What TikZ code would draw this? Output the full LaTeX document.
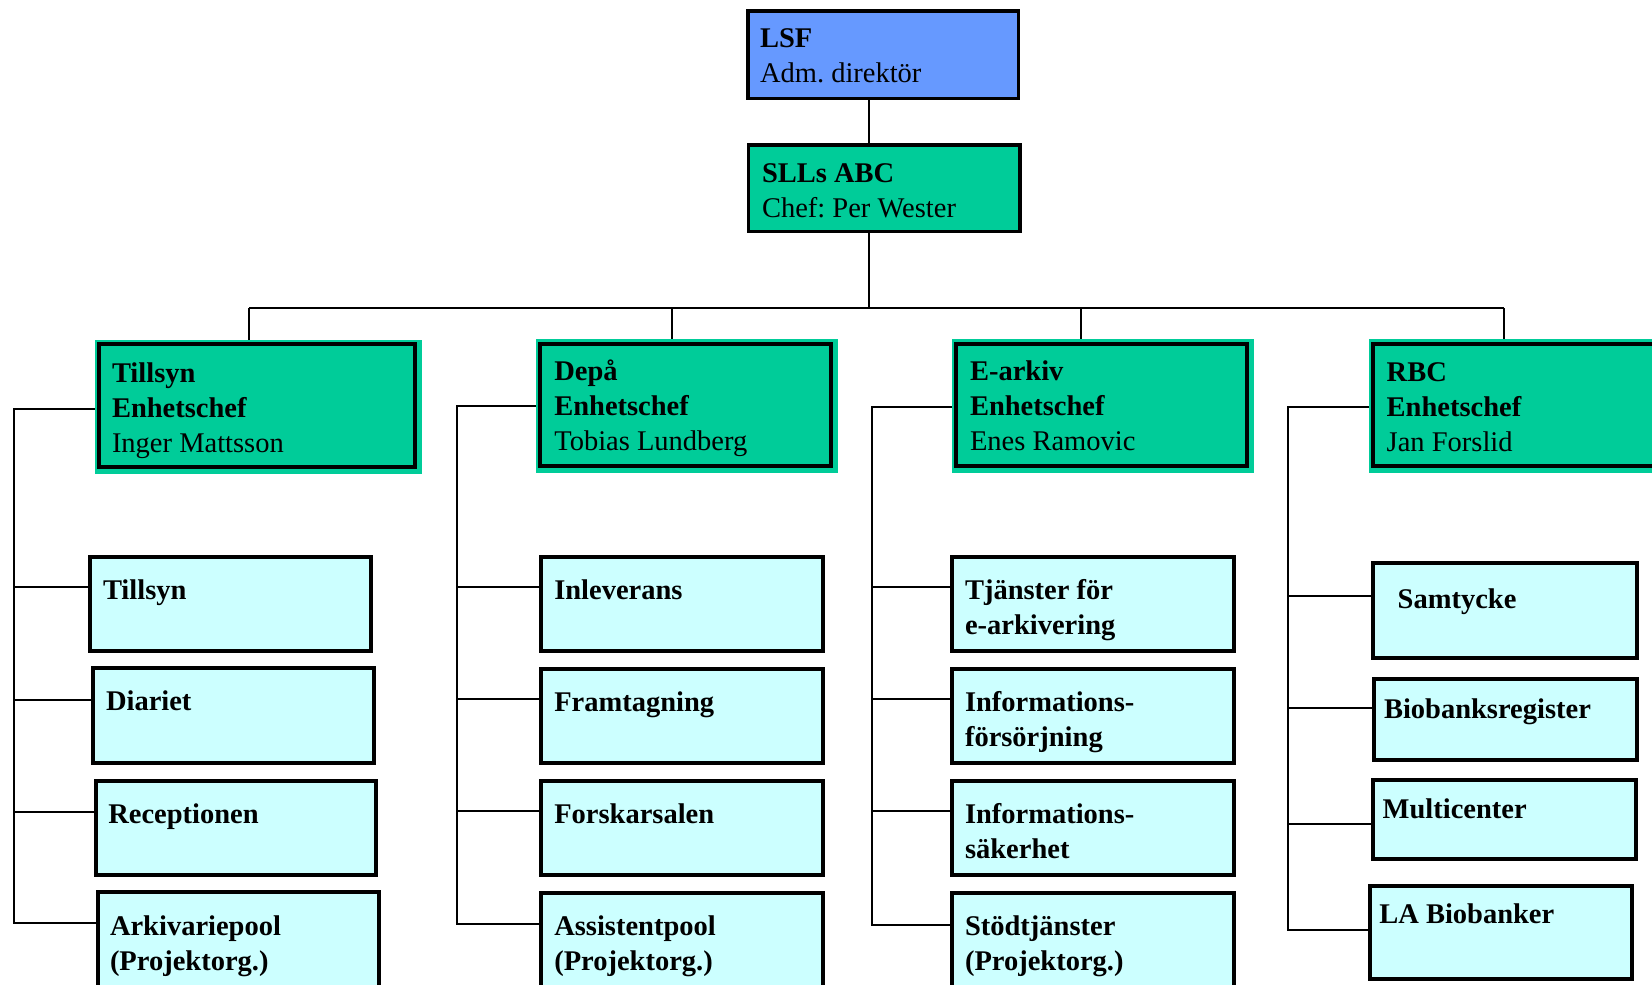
\documentclass[tikz,border=0pt]{standalone}
\usepackage{fontspec}
\setmainfont{Liberation Serif}
\frenchspacing
\definecolor{lsfblue}{HTML}{6699FF}
\definecolor{abcgreen}{HTML}{00CC99}
\definecolor{unitcyan}{HTML}{CCFFFF}
\pgfdeclarelayer{bg}
\pgfsetlayers{bg,main}
\newcommand{\rowstack}[1]{\begin{tabular}[t]{@{}l@{}}#1\end{tabular}}
\tikzset{
  boxbase/.style={rectangle, draw=black, inner sep=0pt, outer sep=0pt, anchor=north west},
  topbox/.style={boxbase, line width=3.5pt},
  unitbox/.style={boxbase, fill=abcgreen, line width=4pt, preaction={draw=abcgreen, fill=abcgreen, line width=11pt, transform canvas={shift={(1.5pt,-1pt)}}}},
  subbox/.style={boxbase, fill=unitcyan, line width=4pt},
  lbl/.style={anchor=base west, inner sep=0pt, outer sep=0pt, font=\fontsize{28.5}{35}\selectfont},
  conn/.style={line width=2pt, draw=black},
}
\begin{document}
\begin{tikzpicture}[x=1pt,y=-1pt]
\useasboundingbox (0,0) rectangle (1652,985);
% top boxes
\node[topbox, fill=lsfblue, minimum width=270.5pt, minimum height=87.5pt] (lsf) at (747.75,10.75) {};
\node[lbl] (lsft) at (760,47) {\rowstack{\textbf{LSF}\\Adm. direktör}};
\node[topbox, fill=abcgreen, minimum width=271.5pt, minimum height=86.5pt] (sll) at (748.5,144.75) {};
\node[lbl] (sllt) at (762,182) {\rowstack{\textbf{SLLs ABC}\\Chef: Per Wester}};
% units
\node[unitbox, minimum width=316pt, minimum height=123pt] (u1) at (99,344) {};
\node[lbl] (u1t) at (112,382) {\rowstack{\textbf{Tillsyn}\\\textbf{Enhetschef}\\Inger Mattsson}};
\node[unitbox, minimum width=291pt, minimum height=122.6pt] (u2) at (540.3,343.7) {};
\node[lbl] (u2t) at (554.3,380) {\rowstack{\textbf{Depå}\\\textbf{Enhetschef}\\Tobias Lundberg}};
\node[unitbox, minimum width=291pt, minimum height=122.6pt] (u3) at (956.3,343.7) {};
\node[lbl] (u3t) at (970,380) {\rowstack{\textbf{E-arkiv}\\\textbf{Enhetschef}\\Enes Ramovic}};
\node[unitbox, minimum width=320pt, minimum height=122.6pt] (u4) at (1372.7,343.7) {};
\node[lbl] (u4t) at (1386.7,381) {\rowstack{\textbf{RBC}\\\textbf{Enhetschef}\\Jan Forslid}};
% column 1
\node[subbox, minimum width=280.4pt, minimum height=94pt] (c1a) at (90.3,556.7) {};
\node[lbl] (c1at) at (103,599.3) {\textbf{Tillsyn}};
\node[subbox, minimum width=280.7pt, minimum height=94.7pt] (c1b) at (93.3,668.3) {};
\node[lbl] (c1bt) at (106,710.7) {\textbf{Diariet}};
\node[subbox, minimum width=280.6pt, minimum height=94pt] (c1c) at (95.7,780.7) {};
\node[lbl] (c1ct) at (108.3,823.3) {\textbf{Receptionen}};
\node[subbox, minimum width=280.7pt, minimum height=104pt] (c1d) at (98,892.3) {};
\node[lbl] (c1dt) at (110,935) {\rowstack{\textbf{Arkivariepool}\\\textbf{(Projektorg.)}}};
% column 2
\node[subbox, minimum width=281.4pt, minimum height=93.7pt] (c2a) at (541.3,557) {};
\node[lbl] (c2at) at (554.3,599.3) {\textbf{Inleverans}};
\node[subbox, minimum width=281.4pt, minimum height=94pt] (c2b) at (541.3,668.5) {};
\node[lbl] (c2bt) at (554.3,711) {\textbf{Framtagning}};
\node[subbox, minimum width=281.4pt, minimum height=94pt] (c2c) at (541.3,780.7) {};
\node[lbl] (c2ct) at (554.3,823) {\textbf{Forskarsalen}};
\node[subbox, minimum width=281.4pt, minimum height=104pt] (c2d) at (541.3,893) {};
\node[lbl] (c2dt) at (554.3,935) {\rowstack{\textbf{Assistentpool}\\\textbf{(Projektorg.)}}};
% column 3
\node[subbox, minimum width=281.4pt, minimum height=93.7pt] (c3a) at (952.3,557) {};
\node[lbl] (c3at) at (965,599.3) {\rowstack{\textbf{Tjänster för}\\\textbf{e-arkivering}}};
\node[subbox, minimum width=281.4pt, minimum height=94pt] (c3b) at (952.3,668.5) {};
\node[lbl] (c3bt) at (965,711) {\rowstack{\textbf{Informations-}\\\textbf{försörjning}}};
\node[subbox, minimum width=281.4pt, minimum height=94pt] (c3c) at (952.3,780.7) {};
\node[lbl] (c3ct) at (965,823) {\rowstack{\textbf{Informations-}\\\textbf{säkerhet}}};
\node[subbox, minimum width=281.4pt, minimum height=104pt] (c3d) at (952.3,893) {};
\node[lbl] (c3dt) at (965,935) {\rowstack{\textbf{Stödtjänster}\\\textbf{(Projektorg.)}}};
% column 4
\node[subbox, minimum width=264.7pt, minimum height=94.5pt] (c4a) at (1372.7,563) {};
\node[lbl] (c4at) at (1397.7,608.5) {\textbf{Samtycke}};
\node[subbox, minimum width=263.6pt, minimum height=81pt] (c4b) at (1373.8,679) {};
\node[lbl] (c4bt) at (1384,718) {\textbf{Biobanksregister}};
\node[subbox, minimum width=263.6pt, minimum height=79pt] (c4c) at (1372.7,780) {};
\node[lbl] (c4ct) at (1382.7,818.7) {\textbf{Multicenter}};
\node[subbox, minimum width=262.4pt, minimum height=93pt] (c4d) at (1369.6,886) {};
\node[lbl] (c4dt) at (1379.3,923.4) {\textbf{LA Biobanker}};
% connectors
\begin{pgfonlayer}{bg}
\coordinate (trunk) at (869.3,308.3);
\coordinate (bl) at (249.3,308.3);
\coordinate (d2) at (672.3,308.3);
\coordinate (d3) at (1081,308.3);
\coordinate (br) at (1503.5,308.3);
\draw[conn] (lsf.south -| trunk) -- (sll.north -| trunk);
\draw[conn] (sll.south -| trunk) -- (trunk);
\draw[conn] (bl) -- (br);
\draw[conn] (bl) -- (bl |- u1.north);
\draw[conn] (d2) -- (d2 |- u2.north);
\draw[conn] (d3) -- (d3 |- u3.north);
\draw[conn] (br) -- (br |- u4.north);
% column 1 bracket
\coordinate (k1) at (14,409);
\coordinate (k1a) at (14,587.3);
\coordinate (k1b) at (14,699.7);
\coordinate (k1c) at (14,811.7);
\coordinate (k1d) at (14,923.3);
\draw[conn] (u1.west |- k1) -- (k1) -- (k1d) -- (c1d.west |- k1d);
\draw[conn] (k1a) -- (c1a.west |- k1a);
\draw[conn] (k1b) -- (c1b.west |- k1b);
\draw[conn] (k1c) -- (c1c.west |- k1c);
% column 2 bracket
\coordinate (k2) at (457,406);
\coordinate (k2a) at (457,587);
\coordinate (k2b) at (457,698.5);
\coordinate (k2c) at (457,811.3);
\coordinate (k2d) at (457,924);
\draw[conn] (u2.west |- k2) -- (k2) -- (k2d) -- (c2d.west |- k2d);
\draw[conn] (k2a) -- (c2a.west |- k2a);
\draw[conn] (k2b) -- (c2b.west |- k2b);
\draw[conn] (k2c) -- (c2c.west |- k2c);
% column 3 bracket
\coordinate (k3) at (872.3,407);
\coordinate (k3a) at (872.3,587.3);
\coordinate (k3b) at (872.3,698.5);
\coordinate (k3c) at (872.3,811.3);
\coordinate (k3d) at (872.3,925.3);
\draw[conn] (u3.west |- k3) -- (k3) -- (k3d) -- (c3d.west |- k3d);
\draw[conn] (k3a) -- (c3a.west |- k3a);
\draw[conn] (k3b) -- (c3b.west |- k3b);
\draw[conn] (k3c) -- (c3c.west |- k3c);
% column 4 bracket
\coordinate (k4) at (1287.5,407);
\coordinate (k4a) at (1287.5,596);
\coordinate (k4b) at (1287.5,707.5);
\coordinate (k4c) at (1287.5,823.5);
\coordinate (k4d) at (1287.5,929.5);
\draw[conn] (u4.west |- k4) -- (k4) -- (k4d) -- (c4d.west |- k4d);
\draw[conn] (k4a) -- (c4a.west |- k4a);
\draw[conn] (k4b) -- (c4b.west |- k4b);
\draw[conn] (k4c) -- (c4c.west |- k4c);
\end{pgfonlayer}
\end{tikzpicture}
\end{document}
